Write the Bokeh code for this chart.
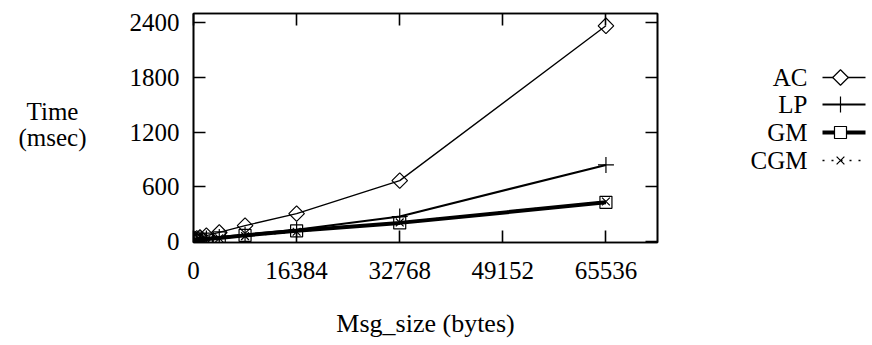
import numpy as np
from bokeh.plotting import figure
from bokeh.layouts import row
from bokeh.models import Range1d, LinearAxis, FixedTicker, ColumnDataSource
from bokeh.core.properties import value
from bokeh.embed import file_html
from bokeh.resources import INLINE

# ---- data ----
msg_size = [1, 256, 512, 1024, 2048, 4096, 8192, 16384, 32768, 65536]
ac = [10, 25, 35, 45, 65, 100, 175, 307, 668, 2365]
lp = [5, 12, 18, 25, 35, 50, 75, 130, 275, 840]
gm = [5, 10, 14, 20, 28, 40, 68, 118, 205, 430]
cgm = [4, 9, 12, 18, 25, 36, 60, 108, 210, 440]
series_names = ["AC", "LP", "GM", "CGM"]
x_ticks = [0, 16384, 32768, 49152, 65536]
y_ticks = [0, 600, 1200, 1800, 2400]
y_title = ["Time", "(msec)"]
x_title = "Msg_size (bytes)"

FONT = "Liberation Serif"
FS = "25px"

styles = {
    "AC": dict(lw=1.3, dash="solid", marker="square", angle=np.pi / 4, size=11),
    "LP": dict(lw=2.2, dash="solid", marker="cross", angle=0, size=16),
    "GM": dict(lw=4.0, dash="solid", marker="square", angle=0, size=12),
    "CGM": dict(lw=1.5, dash="2 7", marker="x", angle=0, size=11),
}
ys = {"AC": ac, "LP": lp, "GM": gm, "CGM": cgm}

TOP, BOTTOM = 13, 103
LEFT_W, MAIN_W, LEG_W, H = 100, 600, 172, 345

# ---- main plot ----
p = figure(width=MAIN_W, height=H, x_range=Range1d(0, 73728), y_range=Range1d(-10, 2500),
           toolbar_location=None, output_backend="svg",
           min_border_left=93, min_border_right=43, min_border_top=TOP, min_border_bottom=BOTTOM)
p.xgrid.visible = False
p.ygrid.visible = False
p.outline_line_color = "black"
p.outline_line_width = 1.6
p.background_fill_color = "white"
p.border_fill_color = "white"

def style_axis(ax, ticks, labels=True):
    ax.ticker = FixedTicker(ticks=ticks)
    ax.major_tick_in = 12
    ax.major_tick_out = 0
    ax.minor_tick_line_color = None
    ax.axis_line_width = 1.6
    ax.major_tick_line_width = 1.6
    ax.axis_line_color = "black"
    ax.major_tick_line_color = "black"
    ax.major_label_text_font = FONT
    ax.major_label_text_font_size = FS
    ax.major_label_text_color = "black"
    if not labels:
        ax.major_label_overrides = {t: "" for t in ticks}
        ax.major_label_standoff = 0

style_axis(p.xaxis[0], x_ticks)
style_axis(p.yaxis[0], y_ticks)
p.xaxis[0].major_label_standoff = 19
p.yaxis[0].major_label_standoff = 14
p.xaxis[0].axis_label = x_title
p.xaxis[0].axis_label_text_font = FONT
p.xaxis[0].axis_label_text_font_size = "26px"
p.xaxis[0].axis_label_text_font_style = "normal"
p.xaxis[0].axis_label_text_color = "black"
p.xaxis[0].axis_label_standoff = 27

top = LinearAxis()
style_axis(top, x_ticks, labels=False)
p.add_layout(top, "above")
right = LinearAxis()
style_axis(right, y_ticks, labels=False)
p.add_layout(right, "right")

for name in series_names:
    st = styles[name]
    src = ColumnDataSource(dict(x=msg_size, y=ys[name]))
    p.line("x", "y", source=src, line_color="black", line_width=st["lw"], line_dash=st["dash"])
    p.scatter("x", "y", source=src, marker=st["marker"], angle=st["angle"], size=st["size"],
              line_color="black", fill_color=None, line_width=1.2)

def panel(width, x0):
    f = figure(width=width, height=H, x_range=Range1d(x0, x0 + width),
               y_range=Range1d(H - BOTTOM, TOP),
               toolbar_location=None, output_backend="svg",
               min_border_left=0, min_border_right=0, min_border_top=TOP, min_border_bottom=BOTTOM,
               x_axis_location=None, y_axis_location=None)
    f.xgrid.visible = False
    f.ygrid.visible = False
    f.outline_line_color = None
    f.border_fill_color = "white"
    return f

# ---- left panel: y title ----
lp_fig = panel(LEFT_W, 0)
lp_fig.text(x=[52, 52], y=[111, 137], text=y_title, text_align="center", text_baseline="middle",
            text_font=value(FONT), text_font_size=FS, text_color="black")

# ---- legend panel (label left, sample right) ----
lg = panel(LEG_W, LEFT_W + MAIN_W)
row_y = [77, 104, 132, 160]
for name, yy in zip(series_names, row_y):
    st = styles[name]
    lg.text(x=[807], y=[yy], text=[name], text_align="right", text_baseline="middle",
            text_font=value(FONT), text_font_size=FS, text_color="black")
    lg.line(x=[822, 865], y=[yy, yy], line_color="black", line_width=st["lw"], line_dash=st["dash"])
    lg.scatter(x=[840], y=[yy], marker=st["marker"], angle=st["angle"], size=st["size"],
               line_color="black", fill_color="white" if name != "CGM" else None, line_width=1.2)

layout = row(lp_fig, p, lg)
open("out.html", "w").write(file_html(layout, INLINE))
